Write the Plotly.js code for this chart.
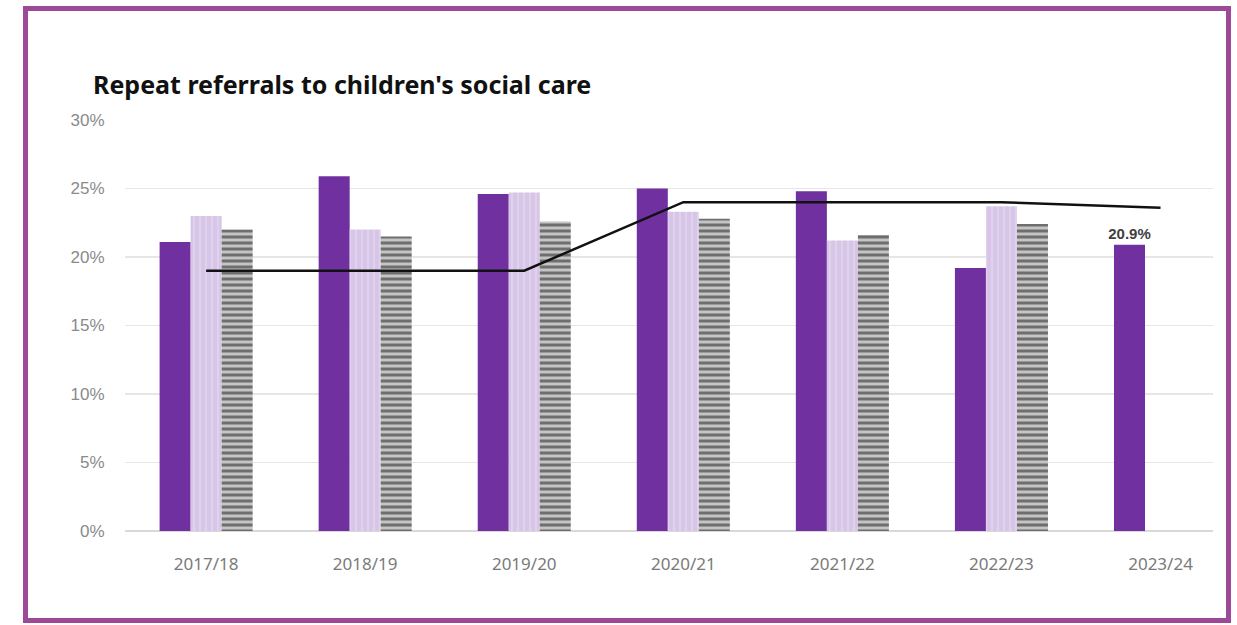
<!DOCTYPE html>
<html>
<head>
<meta charset="utf-8">
<script src="https://cdn.plot.ly/plotly-3.0.1.min.js"></script>
<style>
  html, body { margin: 0; padding: 0; background: #ffffff; }
  #wrap { position: relative; width: 1237px; height: 625px; }
  #chart { width: 1237px; height: 625px; }
  #frame { position: absolute; left: 23px; top: 6px; width: 1198px; height: 607px;
           border: 5px solid #9c4a97; pointer-events: none; }
</style>
</head>
<body>
<div id="wrap">
  <div id="chart"></div>
  <div id="frame"></div>
</div>
<script>
const categories = ["2017/18", "2018/19", "2019/20", "2020/21", "2021/22", "2022/23", "2023/24"];
const localValues = [21.1, 25.9, 24.6, 25.0, 24.8, 19.2, 20.9];
const comparatorA = [23.0, 22.0, 24.7, 23.3, 21.2, 23.7, null];
const comparatorB = [22.0, 21.5, 22.6, 22.8, 21.6, 22.4, null];
const targetLine = [19.0, 19.0, 19.0, 24.0, 24.0, 24.0, 23.6];
const latestLabel = ["", "", "", "", "", "", "20.9%"];
const yTicks = [0, 5, 10, 15, 20, 25, 30];
const yTickText = ["0%", "5%", "10%", "15%", "20%", "25%", "30%"];

const traces = [
  {
    type: "bar", x: categories, y: localValues, name: "Local",
    marker: { color: "#7030a0" },
    text: latestLabel, textposition: "outside", cliponaxis: false, constraintext: "none",
    textfont: { family: "Liberation Sans, Arial, sans-serif", size: 15, color: "#404040", weight: "bold" },
    hoverinfo: "x+y"
  },
  {
    type: "bar", x: categories, y: comparatorA, name: "Comparator A",
    marker: { color: "#dccdea",
      pattern: { shape: "|", fgcolor: "#e9def2", bgcolor: "#d6c5e6", size: 6, solidity: 0.35, fillmode: "overlay" } },
    hoverinfo: "x+y"
  },
  {
    type: "bar", x: categories, y: comparatorB, name: "Comparator B",
    marker: { color: "#bdbdbd",
      pattern: { shape: "-", fgcolor: "#6e6e6e", bgcolor: "#c4c4c4", size: 6, solidity: 0.5, fillmode: "replace" } },
    hoverinfo: "x+y"
  },
  {
    type: "scatter", mode: "lines", x: categories, y: targetLine, name: "Target",
    line: { color: "#111111", width: 2.5 },
    hoverinfo: "x+y"
  }
];

const layout = {
  width: 1237, height: 625,
  paper_bgcolor: "#ffffff", plot_bgcolor: "#ffffff",
  margin: { l: 125, r: 24, t: 120, b: 94 },
  showlegend: false,
  barmode: "group", bargap: 0.415, bargroupgap: 0,
  title: {
    text: "Repeat referrals to children's social care",
    x: 93 / 1237, xanchor: "left", xref: "container",
    y: 1 - 85 / 625, yanchor: "middle", yref: "container",
    font: { family: "Noto Sans, Open Sans, sans-serif", size: 25, color: "#111111", weight: "bold" }
  },
  xaxis: {
    type: "category", range: [-0.51, 6.33],
    showgrid: false, zeroline: false, showline: false,
    ticks: "outside", ticklen: 18, tickcolor: "rgba(0,0,0,0)",
    tickfont: { family: "Noto Sans, Open Sans, sans-serif", size: 17, color: "#7a7a7a" },
    fixedrange: true
  },
  yaxis: {
    range: [0, 30], tickvals: yTicks, ticktext: yTickText,
    showgrid: true, gridcolor: "#e6e6e6", gridwidth: 1.5,
    zeroline: true, zerolinecolor: "#d9d9d9", zerolinewidth: 1.5,
    showline: false,
    ticks: "outside", ticklen: 16, tickcolor: "rgba(0,0,0,0)",
    tickfont: { family: "Liberation Sans, Arial, sans-serif", size: 17, color: "#8a8a8a" },
    fixedrange: true
  }
};

Plotly.newPlot("chart", traces, layout, { displayModeBar: false, staticPlot: true });
</script>
</body>
</html>
